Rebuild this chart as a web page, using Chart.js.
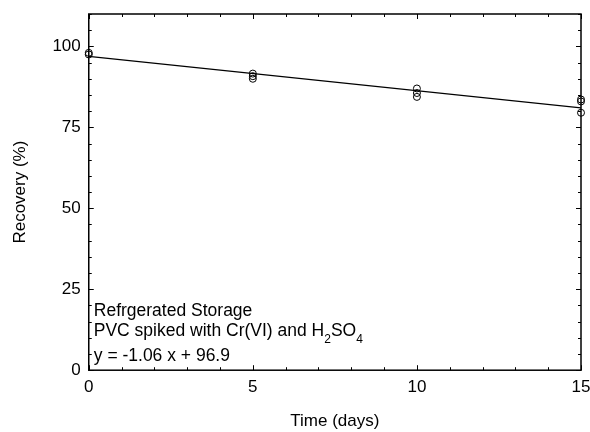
<!DOCTYPE html>
<html>
<head>
<meta charset="utf-8">
<script src="https://cdn.jsdelivr.net/npm/chart.js@4/dist/chart.umd.min.js"></script>
<style>
  body { margin: 0; background: #fff; }
  #wrap { width: 590px; height: 432px; }
</style>
</head>
<body>
<div id="wrap"><canvas id="chart"></canvas></div>
<script>
// measured recoveries (days, %)
var days = [0, 0, 5, 5, 5, 10, 10, 10, 15, 15, 15];
var recovery = [97.5, 98.0, 91.6, 90.8, 90.0, 87.0, 85.6, 84.4, 83.6, 83.0, 79.5];

// fitted line y = -1.06 x + 96.9, end points
var fitDays = [0, 15];
var fitRecovery = [96.9, 81.0];

var xTicks = [0, 5, 10, 15];
var yTicks = [0, 25, 50, 75, 100];

var noteLines = ["Refrgerated Storage", "PVC spiked with Cr(VI) and H2SO4", "y = -1.06 x + 96.9"];

const FONT = "'Liberation Sans', Arial, sans-serif";

var points = days.map(function (d, i) { return { x: d, y: recovery[i] }; });
var fitPts = fitDays.map(function (d, i) { return { x: d, y: fitRecovery[i] }; });

// box, inward ticks and the note text
var framePlugin = {
  id: 'frame',
  afterDraw: function (chart) {
    var ctx = chart.ctx, a = chart.chartArea;
    var sx = chart.scales.x, sy = chart.scales.y;
    ctx.save();
    ctx.strokeStyle = '#000';
    ctx.lineWidth = 1;
    ctx.beginPath();
    for (var d = 0; d <= 15; d++) {
      var px = Math.round(sx.getPixelForValue(d)) + 0.5;
      var len = d % 5 === 0 ? 5 : 3;
      ctx.moveTo(px, a.bottom); ctx.lineTo(px, a.bottom - len);
      ctx.moveTo(px, a.top); ctx.lineTo(px, a.top + len);
    }
    for (var v = 0; v <= 110; v += 5) {
      var py = Math.round(sy.getPixelForValue(v)) + 0.5;
      var l2 = v % 25 === 0 ? 5 : 3;
      ctx.moveTo(a.left, py); ctx.lineTo(a.left + l2, py);
      ctx.moveTo(a.right, py); ctx.lineTo(a.right - l2, py);
    }
    ctx.stroke();
    ctx.lineWidth = 1.5;
    ctx.strokeRect(a.left, a.top, a.right - a.left, a.bottom - a.top);

    // note
    ctx.fillStyle = '#000';
    ctx.textBaseline = 'alphabetic';
    ctx.font = '17.5px ' + FONT;
    var x0 = a.left + 5;
    ctx.fillText(noteLines[0], x0, a.bottom - 54);
    // line 2 with subscripts
    var y2 = a.bottom - 34;
    var s = "PVC spiked with Cr(VI) and H";
    ctx.fillText(s, x0, y2);
    var w = ctx.measureText(s).width;
    ctx.font = '12px ' + FONT;
    ctx.fillText("2", x0 + w, y2 + 7);
    w += ctx.measureText("2").width;
    ctx.font = '17.5px ' + FONT;
    ctx.fillText("SO", x0 + w, y2);
    w += ctx.measureText("SO").width;
    ctx.font = '12px ' + FONT;
    ctx.fillText("4", x0 + w, y2 + 7);
    ctx.font = '17.5px ' + FONT;
    ctx.fillText(noteLines[2], x0, a.bottom - 9);
    ctx.restore();
  }
};

const chart = new Chart(document.getElementById('chart'), {
  type: 'scatter',
  data: {
    datasets: [
      {
        label: 'fit',
        type: 'line',
        data: fitPts,
        borderColor: '#000',
        borderWidth: 1.2,
        pointRadius: 0,
        fill: false
      },
      {
        label: 'data',
        data: points,
        pointStyle: 'circle',
        pointRadius: 3.5,
        borderColor: '#000',
        borderWidth: 1,
        backgroundColor: 'rgba(0,0,0,0)',
        clip: false
      }
    ]
  },
  options: {
    responsive: true,
    maintainAspectRatio: false,
    animation: false,
    layout: { padding: { left: 10, right: 9, top: 14, bottom: 0 } },
    plugins: { legend: { display: false }, tooltip: { enabled: false } },
    scales: {
      x: {
        type: 'linear',
        min: 0, max: 15,
        afterBuildTicks: function (s) { s.ticks = xTicks.map(function (v) { return { value: v }; }); },
        afterFit: function (s) { s.paddingLeft = 0; s.paddingRight = 0; },
        grid: { display: false, drawTicks: false },
        border: { display: false },
        ticks: { color: '#000', font: { family: FONT, size: 17 }, padding: 7, maxRotation: 0 },
        title: { display: true, text: 'Time (days)', color: '#000', font: { family: FONT, size: 17 }, padding: { top: 7, bottom: 0 } }
      },
      y: {
        min: 0, max: 110,
        afterBuildTicks: function (s) { s.ticks = yTicks.map(function (v) { return { value: v }; }); },
        afterFit: function (s) { s.paddingTop = 0; s.paddingBottom = 0; },
        grid: { display: false, drawTicks: false },
        border: { display: false },
        ticks: { color: '#000', font: { family: FONT, size: 17 }, padding: 8 },
        title: { display: true, text: 'Recovery (%)', color: '#000', font: { family: FONT, size: 17 }, padding: { top: 0, bottom: 14 } }
      }
    }
  },
  plugins: [framePlugin]
});
</script>
</body>
</html>
